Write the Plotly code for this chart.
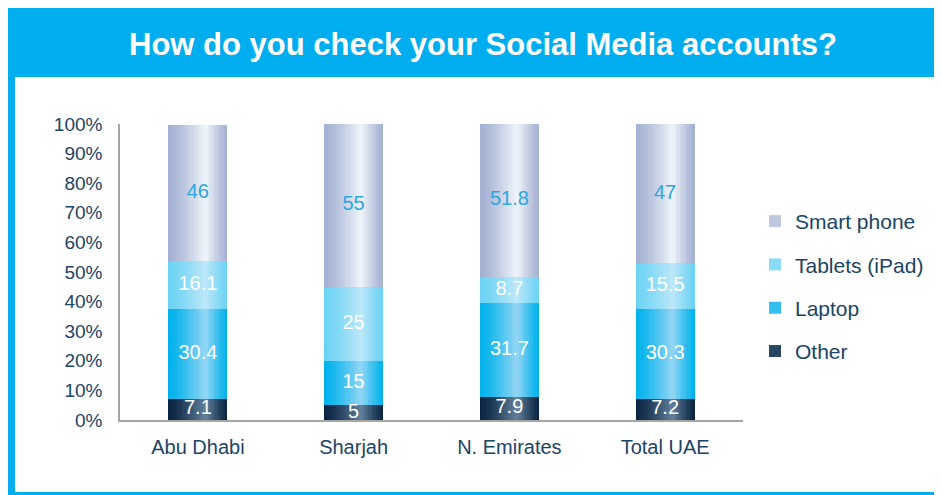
import plotly.graph_objects as go
import numpy as np

# data
regions = ['Abu Dhabi', 'Sharjah', 'N. Emirates', 'Total UAE']
other = [7.1, 5, 7.9, 7.2]
laptop = [30.4, 15, 31.7, 30.3]
tablets = [16.1, 25, 8.7, 15.5]
smart_phone = [46, 55, 51.8, 47]

series_names = ['Other', 'Laptop', 'Tablets (iPad)', 'Smart phone']
series_vals = [other, laptop, tablets, smart_phone]

# style: edge colour / highlight colour of the cylinder-like gradient
edge_cols = [(8, 36, 64), (0, 178, 236), (108, 211, 244), (164, 176, 210)]
peak_cols = [(100, 130, 158), (150, 214, 244), (190, 232, 249), (240, 246, 251)]
label_cols = ['white', 'white', 'white', '#2ea6de']

W = 0.38      # bar width in category units
N = 24        # slices per bar to fake the gradient
NAVY = '#1b4466'
BLUE = '#00aeef'
FONT = 'Liberation Sans, Arial, sans-serif'

# page has an 8px body margin, so work in page pixels and shift
OFF = 8
FW, FH = 942 - OFF, 495 - OFF
L, R, T, B = 120 - OFF, 743 - OFF, 124 - OFF, 420 - OFF


def px2x(px):
    return (px - OFF - L) / (R - L)


def py2y(py):
    return (B - (py - OFF)) / (B - T)


def weight(t):
    if t <= 0.63:
        return (t / 0.63) ** 1.3
    return max(0.0, 1 - (t - 0.63) / 0.37) ** 1.2


def mix(c1, c2, w):
    return 'rgb(%d,%d,%d)' % tuple(round(a + (b - a) * w) for a, b in zip(c1, c2))


fig = go.Figure()

base = np.zeros(len(regions))
for s, (name, vals) in enumerate(zip(series_names, series_vals)):
    vals = np.array(vals, dtype=float)
    for i in range(N):
        t = (i + 0.5) / N
        # each slice runs to the right edge, the next one covers it -> no seams
        fig.add_trace(go.Bar(
            x=regions, y=vals, base=base,
            offset=-W / 2 + i * W / N, width=W - i * W / N,
            marker=dict(color=mix(edge_cols[s], peak_cols[s], weight(t)), line=dict(width=0)),
            showlegend=False, hoverinfo='skip'))
    # legend entry
    fig.add_trace(go.Bar(
        x=[regions[0]], y=[None], name=name,
        marker=dict(color=mix(edge_cols[s], peak_cols[s], 0.35), line=dict(width=0)),
        legendgroup=name, legendrank=10 - s))
    # value labels
    fig.add_trace(go.Scatter(
        x=regions, y=base + vals / 2, mode='text',
        text=[str(v) for v in series_vals[s]],
        textfont=dict(size=20, color=label_cols[s], family=FONT),
        showlegend=False, hoverinfo='skip'))
    base = base + vals

# frame: blue border + header band, white body
shapes = [
    dict(type='rect', xref='paper', yref='paper', layer='below',
         x0=px2x(7), x1=px2x(960), y0=py2y(5), y1=py2y(510),
         fillcolor=BLUE, line=dict(width=0)),
    dict(type='rect', xref='paper', yref='paper', layer='below',
         x0=px2x(15), x1=px2x(960), y0=py2y(77), y1=py2y(492),
         fillcolor='white', line=dict(width=0)),
]

fig.update_layout(
    width=FW, height=FH,
    margin=dict(l=L, r=FW - R, t=T, b=FH - B, autoexpand=False),
    barmode='overlay', bargap=0,
    paper_bgcolor='white', plot_bgcolor='white',
    font=dict(family=FONT, color=NAVY),
    shapes=shapes,
    annotations=[dict(text='<b>How do you check your Social Media accounts?</b>',
                      xref='paper', yref='paper', x=px2x(483), y=py2y(44),
                      xanchor='center', yanchor='middle', showarrow=False,
                      font=dict(size=31, color='white', family=FONT))],
    legend=dict(x=px2x(755), y=py2y(201), xanchor='left', yanchor='top',
                font=dict(size=21, color=NAVY), tracegroupgap=13,
                bgcolor='rgba(0,0,0,0)'),
)

fig.update_xaxes(range=[-0.5, 3.5], showline=True, linecolor='#a6a6a6', linewidth=1.5,
                 showgrid=False, zeroline=False, ticks='',
                 tickfont=dict(size=20, color=NAVY), ticklabelstandoff=8)
fig.update_yaxes(range=[0, 100], dtick=10, ticksuffix='%', showline=True,
                 linecolor='#a6a6a6', linewidth=1.5, showgrid=False, zeroline=False,
                 ticks='', tickfont=dict(size=19, color=NAVY), ticklabelstandoff=12)

fig.write_html('out.html')
